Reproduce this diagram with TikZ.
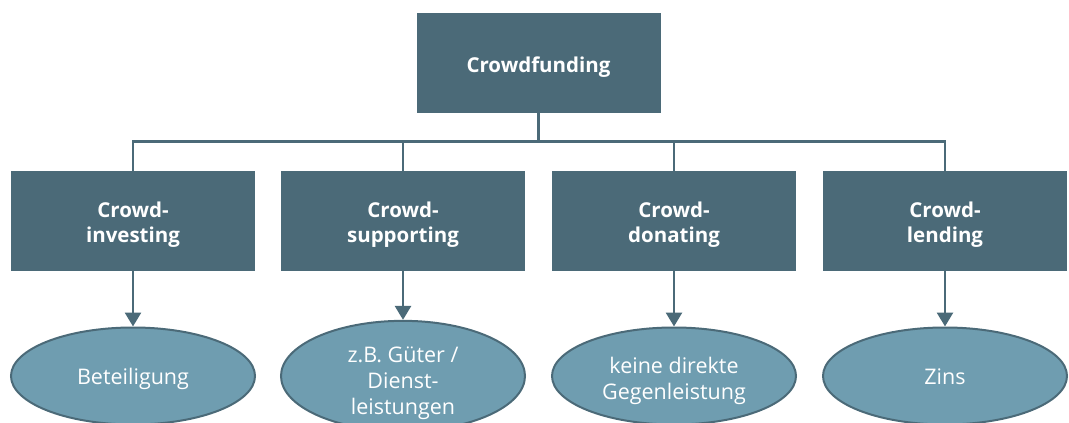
\documentclass[tikz,border=0pt]{standalone}
\usepackage{fontspec}
\setmainfont{Open Sans}
\usetikzlibrary{shapes.geometric,arrows.meta}
\definecolor{boxc}{HTML}{4B6A78}
\definecolor{ellc}{HTML}{6F9DB0}
\newcommand\mytxt[2]{\raisebox{#1}[\height][\depth]{\begin{tabular}{@{}c@{}}#2\end{tabular}}}
\begin{document}
\begin{tikzpicture}[x=1pt,y=-1pt,
  box/.style={rectangle,fill=boxc,text=white,minimum width=244pt,minimum height=100pt,inner sep=0pt,align=center,font=\fontsize{20.5}{25.5}\selectfont\bfseries},
  ell/.style={ellipse,fill=ellc,draw=boxc,line width=2pt,text=white,minimum width=244pt,minimum height=97pt,inner sep=0pt,align=center,font=\fontsize{21.5}{26}\selectfont},
  conn/.style={draw=boxc,line width=2.8pt},
  arr/.style={conn,-{Triangle[length=14pt,width=16pt]}}]
\useasboundingbox (0,0) rectangle (1069,423);
\clip (0,0) rectangle (1069,423);
\node[box] (top) at (538.5,63) {\mytxt{-4pt}{Crowdfunding}};
\node[box] (b1) at (133,221) {\mytxt{-4pt}{Crowd-\\investing}};
\node[box] (b2) at (403,221) {\mytxt{-4pt}{Crowd-\\supporting}};
\node[box] (b3) at (674,221) {\mytxt{-4pt}{Crowd-\\donating}};
\node[box] (b4) at (945,221) {\mytxt{-4pt}{Crowd-\\lending}};
\node[ell] (e1) at (133,376) {\mytxt{-3pt}{Beteiligung}};
\node[ell] (e2) at (403,376) {\mytxt{-7pt}{z.B. Güter /\\Dienst-\\leistungen}};
\node[ell] (e3) at (674,376) {\mytxt{-5pt}{keine direkte\\Gegenleistung}};
\node[ell] (e4) at (945,376) {\mytxt{-3pt}{Zins}};
\foreach \b in {b1,b2,b3,b4} {\draw[conn] (top.south) -- ++(0,28) -| (\b.north);}
\draw[arr] (b1.south) -- (e1.north);
\draw[arr] (b2.south) -- (e2.north);
\draw[arr] (b3.south) -- (e3.north);
\draw[arr] (b4.south) -- (e4.north);
\end{tikzpicture}
\end{document}
